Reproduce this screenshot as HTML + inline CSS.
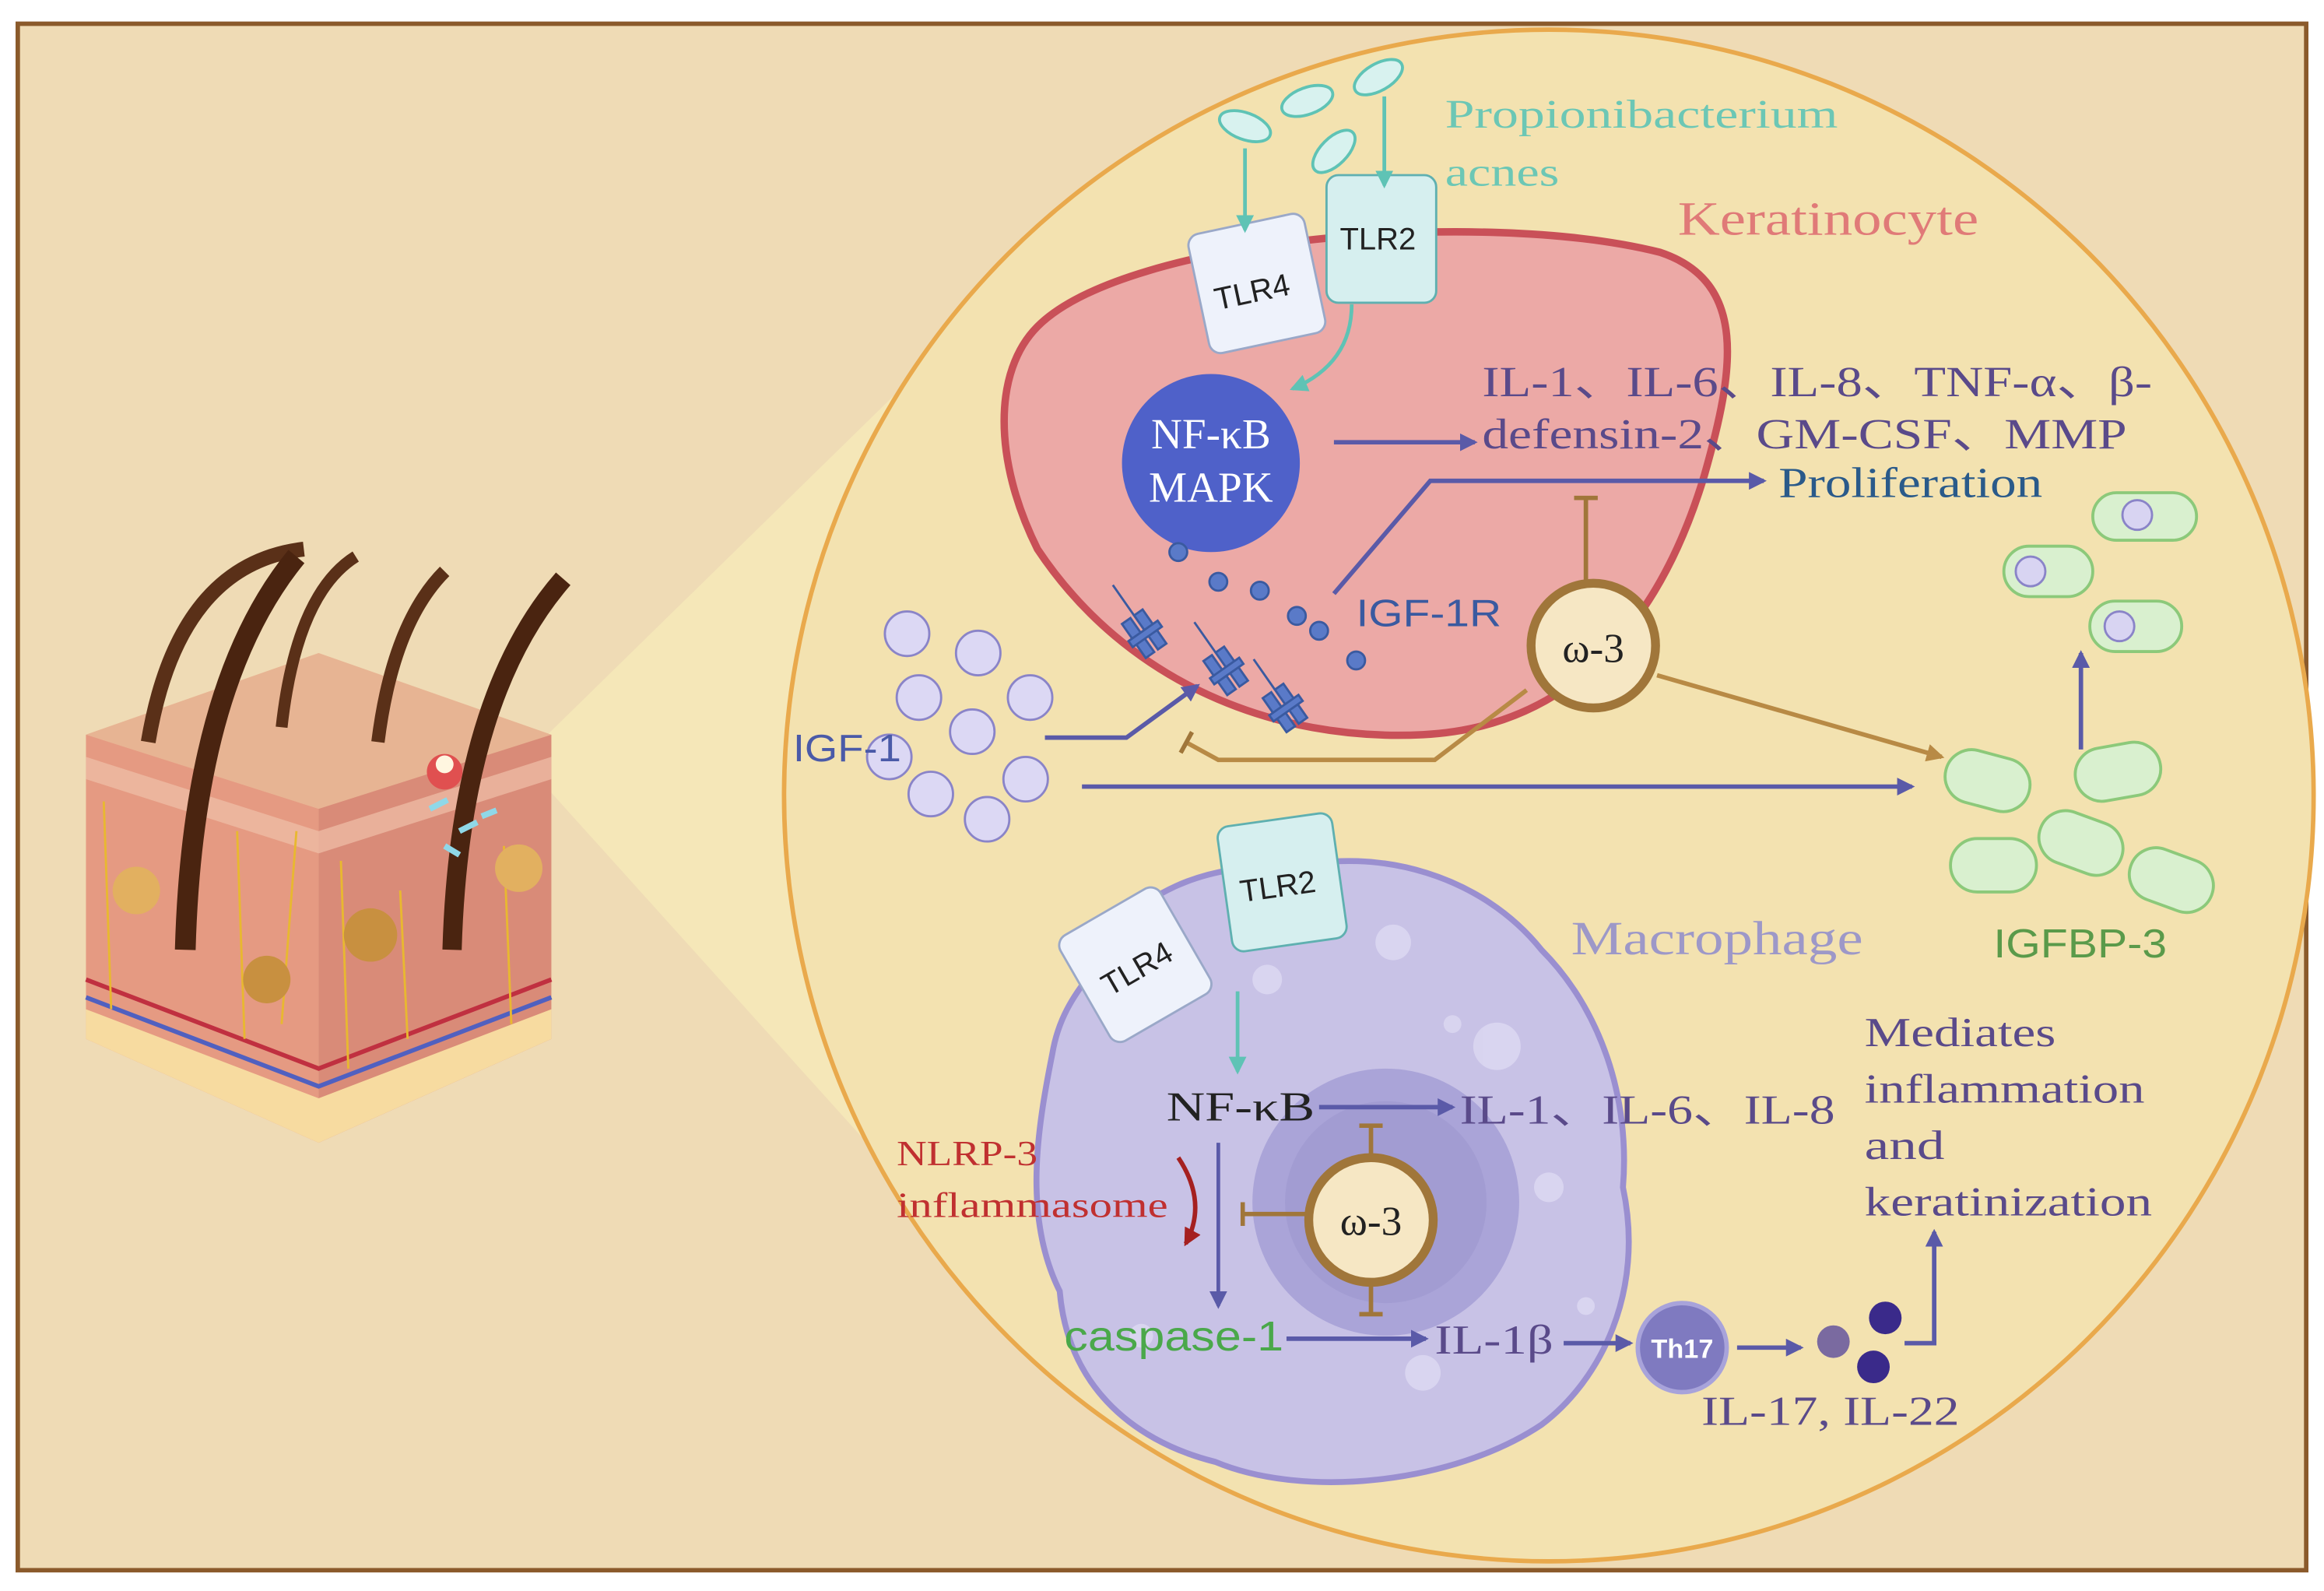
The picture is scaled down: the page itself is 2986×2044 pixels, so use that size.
<!DOCTYPE html>
<html><head><meta charset="utf-8"><style>
html,body{margin:0;padding:0;background:#fff}
svg{display:block}
text{font-family:"Liberation Serif",serif}
.s{font-family:"Liberation Sans",sans-serif}
</style></head><body>
<svg width="2986" height="2044" viewBox="0 0 1568 1072" preserveAspectRatio="none" xmlns="http://www.w3.org/2000/svg">
<defs>
<marker id="ab" markerWidth="12" markerHeight="12" refX="10" refY="6" orient="auto" markerUnits="userSpaceOnUse"><path d="M0,0 L12,6 L0,12 Z" fill="#5a5aa8"/></marker>
<marker id="ag" markerWidth="12" markerHeight="12" refX="10" refY="6" orient="auto" markerUnits="userSpaceOnUse"><path d="M0,0 L12,6 L0,12 Z" fill="#5fc3b5"/></marker>
<marker id="ao" markerWidth="12" markerHeight="12" refX="10" refY="6" orient="auto" markerUnits="userSpaceOnUse"><path d="M0,0 L12,6 L0,12 Z" fill="#b88a45"/></marker>
<marker id="ar" markerWidth="12" markerHeight="12" refX="10" refY="6" orient="auto" markerUnits="userSpaceOnUse"><path d="M0,0 L12,6 L0,12 Z" fill="#a52020"/></marker>
<marker id="tb" markerWidth="4" markerHeight="16" refX="2" refY="8" orient="auto" markerUnits="userSpaceOnUse"><rect x="0" y="0" width="3" height="16" fill="#a0763a"/></marker>
</defs>
<rect x="12" y="16" width="1544" height="1042" fill="#efdbb5" stroke="#8b5a2b" stroke-width="3"/>
<path d="M352,512 L620,250 L612,800 Z" fill="#f5e8b8" opacity="0.9"/>
<circle cx="1045" cy="536" r="516" fill="#f3e2b0" stroke="#e9a94c" stroke-width="3"/>
<g>
<path d="M58,495 L215,440 L372,495 L372,700 L215,770 L58,700 Z" fill="#f1c6a0"/>
<path d="M58,495 L215,440 L372,495 L215,545 Z" fill="#e7b493"/>
<path d="M58,495 L215,545 L215,770 L58,700 Z" fill="#e59a82"/>
<path d="M215,545 L372,495 L372,700 L215,770 Z" fill="#d98b78"/>
<path d="M58,510 L215,560 L372,510 L372,525 L215,575 L58,525 Z" fill="#f0c0a8" opacity="0.7"/>
<path d="M58,680 L215,740 L372,680 L372,700 L215,770 L58,700 Z" fill="#f7dba0"/>
<path d="M58,660 L215,720 L372,660" fill="none" stroke="#c03040" stroke-width="3"/>
<path d="M58,672 L215,732 L372,672" fill="none" stroke="#5060c0" stroke-width="3"/>
<g stroke="#e8b830" stroke-width="1.5" fill="none"><path d="M70,540 L75,680 M160,560 L165,700 M230,580 L235,720 M270,600 L275,700 M340,570 L345,690 M200,560 L190,690"/></g>
<path d="M100,500 Q120,380 205,370" stroke="#5a3018" stroke-width="10" fill="none"/>
<path d="M125,640 Q130,460 200,375" stroke="#4a2410" stroke-width="14" fill="none"/>
<path d="M190,490 Q200,400 240,375" stroke="#5a3018" stroke-width="8" fill="none"/>
<path d="M255,500 Q265,420 300,385" stroke="#5a3018" stroke-width="9" fill="none"/>
<path d="M305,640 Q310,470 380,390" stroke="#4a2410" stroke-width="13" fill="none"/>
<circle cx="300" cy="520" r="12" fill="#e05050"/><circle cx="300" cy="515" r="6" fill="#fff6e0"/>
<circle cx="92" cy="600" r="16" fill="#e2b060"/><circle cx="250" cy="630" r="18" fill="#c89040"/><circle cx="180" cy="660" r="16" fill="#c89040"/><circle cx="350" cy="585" r="16" fill="#e2b060"/>
<path d="M290,545 l12,-6 M310,560 l12,-6 M300,570 l10,6 M325,550 l10,-4" stroke="#8fd8e8" stroke-width="4"/>
</g>
<g fill="#d8f2ef" stroke="#5fc3b5" stroke-width="2">
<ellipse cx="840" cy="85" rx="18" ry="9" transform="rotate(20 840 85)"/>
<ellipse cx="882" cy="68" rx="18" ry="9" transform="rotate(-20 882 68)"/>
<ellipse cx="930" cy="52" rx="18" ry="9" transform="rotate(-30 930 52)"/>
<ellipse cx="900" cy="102" rx="18" ry="9" transform="rotate(-45 900 102)"/>
</g>
<text x="975" y="86" font-size="27" fill="#6cc7b5" textLength="265" lengthAdjust="spacingAndGlyphs">Propionibacterium</text>
<text x="975" y="125" font-size="27" fill="#6cc7b5" textLength="77" lengthAdjust="spacingAndGlyphs">acnes</text>
<text x="1132" y="158" font-size="32" fill="#e07a78" textLength="203" lengthAdjust="spacingAndGlyphs">Keratinocyte</text>
<path d="M700,220 C760,160 1000,140 1120,170 C1180,190 1170,250 1150,320 C1120,420 1060,490 960,495 C860,500 760,460 700,370 C670,310 670,250 700,220 Z" fill="#eca9a6" stroke="#c95058" stroke-width="5"/>
<rect x="808" y="150" width="80" height="82" rx="8" fill="#eef2fb" stroke="#9aa8c8" stroke-width="1.5" transform="rotate(-12 848 191)"/>
<text x="818" y="203" font-size="21" class="s" fill="#222" transform="rotate(-12 848 191)">TLR4</text>
<rect x="895" y="118" width="74" height="86" rx="8" fill="#d6efef" stroke="#5fb0b0" stroke-width="1.5"/>
<text x="904" y="168" font-size="21" class="s" fill="#222">TLR2</text>
<line x1="840" y1="100" x2="840" y2="155" stroke="#5fc3b5" stroke-width="2.5" marker-end="url(#ag)"/>
<line x1="934" y1="65" x2="934" y2="125" stroke="#5fc3b5" stroke-width="2.5" marker-end="url(#ag)"/>
<path d="M912,205 Q912,245 872,262" stroke="#5fc3b5" stroke-width="2.5" fill="none" marker-end="url(#ag)"/>
<circle cx="817" cy="312" r="60" fill="#4f61c9"/>
<text x="817" y="302" font-size="29" fill="#fff" text-anchor="middle">NF-κB</text>
<text x="817" y="338" font-size="29" fill="#fff" text-anchor="middle">MAPK</text>
<line x1="900" y1="298" x2="995" y2="298" stroke="#5a5aa8" stroke-width="3" marker-end="url(#ab)"/>
<text x="1000" y="267" font-size="29" fill="#5a4a8a" textLength="452" lengthAdjust="spacingAndGlyphs">IL-1、IL-6、IL-8、TNF-α、β-</text>
<text x="1000" y="302" font-size="29" fill="#5a4a8a" textLength="435" lengthAdjust="spacingAndGlyphs">defensin-2、GM-CSF、MMP</text>
<path d="M900,400 L965,324 L1190,324" stroke="#5a5aa8" stroke-width="3" fill="none" marker-end="url(#ab)"/>
<text x="1200" y="335" font-size="29" fill="#2a5a8a" textLength="178" lengthAdjust="spacingAndGlyphs">Proliferation</text>
<line x1="1070" y1="395" x2="1070" y2="335" stroke="#a0763a" stroke-width="3" marker-end="url(#tb)"/>
<g stroke="#3a5aa0" stroke-width="1.5" fill="#5a7ac8">
<g transform="rotate(-35 775 420)"><rect x="760" y="410" width="7" height="28"/><rect x="770" y="410" width="7" height="28"/><rect x="757" y="422" width="24" height="5"/><line x1="770" y1="410" x2="770" y2="385"/></g>
<g transform="rotate(-35 830 445)"><rect x="815" y="435" width="7" height="28"/><rect x="825" y="435" width="7" height="28"/><rect x="812" y="447" width="24" height="5"/><line x1="825" y1="435" x2="825" y2="410"/></g>
<g transform="rotate(-35 870 470)"><rect x="855" y="460" width="7" height="28"/><rect x="865" y="460" width="7" height="28"/><rect x="852" y="472" width="24" height="5"/><line x1="865" y1="460" x2="865" y2="435"/></g>
<circle cx="795" cy="372" r="6"/><circle cx="822" cy="392" r="6"/><circle cx="850" cy="398" r="6"/><circle cx="875" cy="415" r="6"/><circle cx="890" cy="425" r="6"/><circle cx="915" cy="445" r="6"/>
</g>
<text x="915" y="422" font-size="26" class="s" fill="#3a5aa0" textLength="98" lengthAdjust="spacingAndGlyphs">IGF-1R</text>
<circle cx="1075" cy="435" r="42" fill="#f6e7c4" stroke="#a0763a" stroke-width="6"/>
<text x="1075" y="446" font-size="28" fill="#222" text-anchor="middle">ω-3</text>
<path d="M1030,465 L968,512 L822,512 L800,500" stroke="#b88a45" stroke-width="3" fill="none" marker-end="url(#tb)"/>
<line x1="1118" y1="455" x2="1310" y2="510" stroke="#b88a45" stroke-width="3" marker-end="url(#ao)"/>
<g fill="#dcd8f4" stroke="#8a84c8" stroke-width="1.5">
<circle cx="612" cy="427" r="15"/><circle cx="660" cy="440" r="15"/><circle cx="620" cy="470" r="15"/><circle cx="695" cy="470" r="15"/><circle cx="656" cy="493" r="15"/><circle cx="600" cy="510" r="15"/><circle cx="692" cy="525" r="15"/><circle cx="628" cy="535" r="15"/><circle cx="666" cy="552" r="15"/>
</g>
<text x="535" y="513" font-size="26" class="s" fill="#4a5aa8" textLength="73" lengthAdjust="spacingAndGlyphs">IGF-1</text>
<path d="M705,497 L760,497 L808,462" stroke="#5a5aa8" stroke-width="3" fill="none" marker-end="url(#ab)"/>
<line x1="730" y1="530" x2="1290" y2="530" stroke="#5a5aa8" stroke-width="3" marker-end="url(#ab)"/>
<g fill="#d9f0cf" stroke="#8cc97a" stroke-width="2">
<rect x="1312" y="508" width="58" height="36" rx="18" transform="rotate(15 1341 526)"/>
<rect x="1400" y="502" width="58" height="36" rx="18" transform="rotate(-10 1429 520)"/>
<rect x="1375" y="550" width="58" height="36" rx="18" transform="rotate(20 1404 568)"/>
<rect x="1316" y="565" width="58" height="36" rx="18"/>
<rect x="1436" y="575" width="58" height="36" rx="18" transform="rotate(20 1465 593)"/>
<rect x="1412" y="332" width="70" height="32" rx="16"/>
<rect x="1352" y="368" width="60" height="34" rx="17"/>
<rect x="1410" y="405" width="62" height="34" rx="17"/>
</g>
<g fill="#d8d4f2" stroke="#8a84c8" stroke-width="1.5"><circle cx="1442" cy="347" r="10"/><circle cx="1370" cy="385" r="10"/><circle cx="1430" cy="422" r="10"/></g>
<line x1="1404" y1="505" x2="1404" y2="440" stroke="#5a5aa8" stroke-width="3" marker-end="url(#ab)"/>
<text x="1345" y="645" font-size="27" class="s" fill="#5a9a4a" textLength="117" lengthAdjust="spacingAndGlyphs">IGFBP-3</text>
<path d="M740,650 C760,600 820,580 870,585 C930,570 1000,590 1040,640 C1080,680 1100,740 1095,800 C1110,870 1080,930 1040,960 C980,1000 880,1010 820,985 C760,970 720,930 715,870 C690,820 700,760 710,710 C715,680 730,665 740,650 Z" fill="#c8c2e6" stroke="#9a8fd0" stroke-width="4"/>
<g fill="#ddd9f2" opacity="0.8"><circle cx="940" cy="635" r="12"/><circle cx="1010" cy="705" r="16"/><circle cx="980" cy="690" r="6"/><circle cx="1045" cy="800" r="10"/><circle cx="960" cy="925" r="12"/><circle cx="855" cy="660" r="10"/><circle cx="770" cy="900" r="8"/><circle cx="1070" cy="880" r="6"/></g>
<circle cx="935" cy="810" r="90" fill="#aaa4d8"/>
<circle cx="935" cy="810" r="68" fill="#9d97cf" opacity="0.6"/>
<text x="1060" y="643" font-size="32" fill="#9d98c8" textLength="197" lengthAdjust="spacingAndGlyphs">Macrophage</text>
<rect x="727" y="609" width="78" height="82" rx="8" fill="#eef2fb" stroke="#9aa8c8" stroke-width="1.5" transform="rotate(-30 766 650)"/>
<text x="740" y="660" font-size="21" class="s" fill="#222" transform="rotate(-30 766 650)">TLR4</text>
<rect x="826" y="552" width="78" height="85" rx="8" fill="#d6efef" stroke="#5fb0b0" stroke-width="1.5" transform="rotate(-8 865 594)"/>
<text x="836" y="604" font-size="21" class="s" fill="#222" transform="rotate(-8 865 594)">TLR2</text>
<line x1="835" y1="668" x2="835" y2="722" stroke="#5fc3b5" stroke-width="2.5" marker-end="url(#ag)"/>
<text x="787" y="755" font-size="28" fill="#222" textLength="100" lengthAdjust="spacingAndGlyphs">NF-κB</text>
<line x1="890" y1="746" x2="980" y2="746" stroke="#5a5aa8" stroke-width="3" marker-end="url(#ab)"/>
<text x="985" y="757" font-size="28" fill="#5a4a8a" textLength="253" lengthAdjust="spacingAndGlyphs">IL-1、IL-6、IL-8</text>
<line x1="822" y1="770" x2="822" y2="880" stroke="#5a5aa8" stroke-width="2.5" marker-end="url(#ab)"/>
<path d="M795,780 Q815,810 800,838" stroke="#a52020" stroke-width="3" fill="none" marker-end="url(#ar)"/>
<text x="605" y="785" font-size="24" fill="#c03030" textLength="95" lengthAdjust="spacingAndGlyphs">NLRP-3</text>
<text x="605" y="820" font-size="24" fill="#c03030" textLength="183" lengthAdjust="spacingAndGlyphs">inflammasome</text>
<circle cx="925" cy="822" r="42" fill="#f6e7c4" stroke="#a0763a" stroke-width="6"/>
<text x="925" y="832" font-size="28" fill="#222" text-anchor="middle">ω-3</text>
<line x1="925" y1="780" x2="925" y2="758" stroke="#a0763a" stroke-width="3" marker-end="url(#tb)"/>
<line x1="925" y1="864" x2="925" y2="886" stroke="#a0763a" stroke-width="3" marker-end="url(#tb)"/>
<line x1="882" y1="818" x2="838" y2="818" stroke="#a0763a" stroke-width="3" marker-end="url(#tb)"/>
<text x="718" y="910" font-size="28" class="s" fill="#4aa84a" textLength="148" lengthAdjust="spacingAndGlyphs">caspase-1</text>
<line x1="868" y1="902" x2="962" y2="902" stroke="#5a5aa8" stroke-width="3" marker-end="url(#ab)"/>
<text x="968" y="912" font-size="28" fill="#5a4a8a" textLength="80" lengthAdjust="spacingAndGlyphs">IL-1β</text>
<line x1="1055" y1="905" x2="1100" y2="905" stroke="#5a5aa8" stroke-width="3" marker-end="url(#ab)"/>
<circle cx="1135" cy="908" r="30" fill="#7f7ac0" stroke="#a8a3da" stroke-width="3"/>
<text x="1135" y="915" font-size="18" class="s" font-weight="bold" fill="#fff" text-anchor="middle">Th17</text>
<line x1="1172" y1="908" x2="1215" y2="908" stroke="#5a5aa8" stroke-width="3" marker-end="url(#ab)"/>
<circle cx="1237" cy="904" r="11" fill="#7a6aa0"/><circle cx="1272" cy="888" r="11" fill="#3a2a8a"/><circle cx="1264" cy="921" r="11" fill="#3a2a8a"/>
<path d="M1285,905 L1305,905 L1305,830" stroke="#5a5aa8" stroke-width="3" fill="none" marker-end="url(#ab)"/>
<text x="1148" y="960" font-size="28" fill="#5a4a8a" textLength="174" lengthAdjust="spacingAndGlyphs">IL-17, IL-22</text>
<text x="1258" y="705" font-size="28" fill="#5a4a8a" textLength="129" lengthAdjust="spacingAndGlyphs">Mediates</text>
<text x="1258" y="743" font-size="28" fill="#5a4a8a" textLength="189" lengthAdjust="spacingAndGlyphs">inflammation</text>
<text x="1258" y="781" font-size="28" fill="#5a4a8a" textLength="54" lengthAdjust="spacingAndGlyphs">and</text>
<text x="1258" y="819" font-size="28" fill="#5a4a8a" textLength="194" lengthAdjust="spacingAndGlyphs">keratinization</text>
</svg>
</body></html>
